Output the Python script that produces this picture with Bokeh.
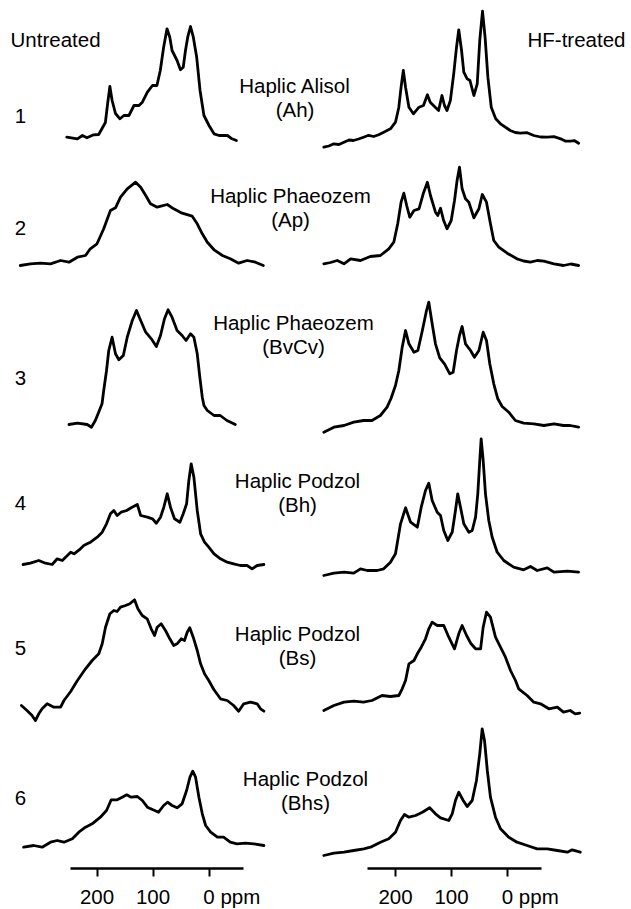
from bokeh.plotting import figure
from bokeh.models import Range1d, LinearAxis, FixedTicker
from bokeh.core.properties import value
from bokeh.embed import file_html
from bokeh.resources import INLINE

# ---------------- data: 13C CPMAS NMR spectra (ppm, intensity a.u.) ----------------
soil_names = ["Haplic Alisol", "Haplic Phaeozem", "Haplic Phaeozem",
              "Haplic Podzol", "Haplic Podzol", "Haplic Podzol"]
horizons = ["(Ah)", "(Ap)", "(BvCv)", "(Bh)", "(Bs)", "(Bhs)"]
row_numbers = ["1", "2", "3", "4", "5", "6"]
column_titles = ["Untreated", "HF-treated"]
tick_ppm = [200, 100, 0]
tick_labels = ["200", "100", "0 ppm"]

ppm_u1 = [254, 235, 226, 218, 206, 197, 191, 185, 181, 177, 173, 167, 159, 152, 143, 134, 125, 119, 110, 101, 93, 87, 81, 75, 70, 66, 57, 51, 46, 42, 38, 33, 28, 22, 16, 9, 0, -9, -18, -33, -41, -49]
int_u1 = [3.3, 1.7, 5, 2.7, 5.7, 6, 12, 18, 37, 54, 40, 27, 21.7, 25, 25, 35, 35, 38.3, 48.3, 55, 55, 70, 93.3, 111.7, 103.3, 90, 80, 70.7, 73.3, 90, 103.3, 114, 103.3, 83.3, 50, 25, 15, 6.7, 5, 5, 1.7, 0]

ppm_h1 = [328, 319, 310, 301, 292, 283, 275, 266, 257, 248, 239, 230, 221, 209, 200, 194, 190, 186, 182, 176, 168, 158, 150, 143, 138, 129, 123, 117, 112.5, 108, 102, 96, 91, 87, 82, 78, 72, 67, 60, 54, 49.5, 44.6, 40, 35, 29, 21, 12.5, -5, -14, -23, -35, -47, -59, -71, -83, -95, -103, -112, -120, -127]
int_h1 = [0.3, 1.5, 3.7, 3, 5.3, 7.5, 7, 8.5, 10.3, 12.2, 11, 12.8, 15.3, 18.7, 25.3, 40.3, 60.3, 77, 60.3, 40.3, 33.7, 40.3, 42, 52.7, 45.3, 40.3, 37, 52, 42, 37, 47, 73.7, 100.3, 117.7, 97, 75.3, 68.7, 67, 52, 63.7, 107, 136.3, 110.3, 70.3, 40.3, 28.7, 23.7, 17, 15, 14.3, 14.8, 12, 10.5, 10.3, 10.8, 8.7, 6.5, 6.3, 6.8, 4.3]

ppm_u2 = [337, 319, 301, 283, 265, 250, 235, 220.5, 212, 200, 188, 176, 167, 158, 146, 131, 122, 113, 104.5, 92.5, 74.6, 63, 48, 30, 21, 12, 3, -9, -24, -38, -53, -68, -83, -97]
int_u2 = [1, 2.7, 3.3, 2.7, 6, 4.3, 9.3, 11, 17.7, 22.7, 37.7, 56, 58.7, 69.3, 77.7, 84.3, 79.3, 71, 62.7, 59.3, 62, 57.7, 53.3, 50.3, 42.7, 32.7, 24.3, 16.7, 11, 7.7, 3.3, 6, 4.3, 1]

ppm_h2 = [328, 316, 304, 292, 280, 262.5, 245, 227, 212, 203, 196, 190, 185, 180, 174.5, 167, 158, 150.5, 143, 137.5, 128.6, 124.5, 119.6, 114, 108, 100.5, 94.6, 90, 85.7, 81, 75, 69, 60, 51, 45, 37.5, 30.4, 24.5, 15.5, 0.5, -17, -29, -41, -53, -65, -83, -100, -113, -127]
int_h2 = [2.7, 4, 6, 2.7, 7.7, 6, 10, 11, 17.7, 24.3, 42.7, 64.3, 73.3, 61, 49.3, 56, 57.7, 72.7, 84.3, 71, 54.3, 51, 58.3, 46, 37.7, 46, 66, 86, 99.3, 77.7, 67.7, 64.3, 48.7, 57.7, 72, 64.3, 42.7, 26, 19.3, 13.3, 7.7, 5.5, 4.3, 6, 5.3, 2.7, 1, 2.5, 1]

ppm_u3 = [250, 235, 217.5, 210, 203, 197, 191, 188, 183, 179, 173, 167, 161, 153, 146, 137, 129.5, 122, 113, 103, 94, 86.6, 79.5, 73, 66, 57, 48, 41, 33, 27, 21, 16.4, 12, 9, 3, -9, -20, -32, -47]
int_u3 = [3, 4.3, 3, 0.3, 7, 15.3, 23.7, 37, 57, 77, 90.3, 73.7, 67.7, 72, 90.3, 107, 117, 107, 95.3, 88.7, 81, 92, 108.7, 117.7, 110.3, 97, 92, 87, 93.7, 90.3, 73.7, 50.3, 30.3, 22, 17, 12, 12, 7, 3]

ppm_h3 = [328, 310, 292, 274.5, 257, 242, 227, 215, 208, 200, 194, 188, 182, 176, 167, 160, 152, 144.6, 140.5, 134.5, 128.6, 121, 112.5, 103, 97, 91, 85.7, 81, 75, 66, 59, 51, 43.4, 37.5, 31.6, 24.5, 17.3, 9.5, -2.3, -14, -29, -47, -65, -83, -100, -112, -127]
int_h3 = [0.3, 5.3, 7, 10.3, 12, 12, 17, 25.3, 34, 47, 62, 85.3, 102, 88.7, 80.3, 82, 102, 122, 130.3, 108.7, 88.7, 74.7, 68.7, 58.7, 60.3, 82, 97, 106, 88.7, 82, 75.3, 82, 100.3, 92, 68.7, 48.7, 33.7, 26, 20.3, 12, 9.3, 8.7, 7, 8.7, 7, 7, 5.3]

ppm_u4 = [332, 319, 304, 292, 280, 271, 262, 247, 241, 229.5, 223.6, 217.5, 211.6, 199.6, 190.7, 183, 176, 170, 164, 157, 147, 139, 128, 122, 110, 101, 94, 86.6, 80.7, 74.6, 68.8, 61.6, 52, 46, 40, 36, 31.8, 27, 21, 15, 8, 0.4, -9, -20.5, -32.5, -44, -56, -68, -77, -86, -98]
int_u4 = [4, 5.3, 8, 5.3, 4, 9.7, 8, 16.3, 14.7, 19.7, 23, 24.7, 26.3, 31.3, 36.3, 44.7, 54.7, 58, 53, 56.3, 58, 60.7, 64, 53, 51.3, 49.7, 45.3, 51.3, 61.3, 74.7, 61.3, 49.7, 46.3, 54.7, 64.7, 88, 104.7, 91.3, 58, 34.7, 26.3, 21.3, 14.7, 9.7, 6.3, 4.7, 3, 3, -0.3, 3, 4]

ppm_h4 = [328, 310, 292, 274.5, 262.5, 250.5, 232.7, 221, 209, 200, 197, 191, 182, 173, 161, 154, 146.4, 140.5, 134.5, 125.5, 119.6, 113.8, 106.6, 98.7, 92.9, 88.8, 83.9, 78, 69, 63, 57, 53, 49.5, 47, 43.4, 39.3, 33.4, 27.3, 18.4, 6.6, -11, -29, -41, -53, -71, -83, -107, -127]
int_h4 = [0, 2.3, 3.3, 2.3, 6.7, 5, 5, 6.7, 13.3, 21.7, 31.7, 51.7, 67.7, 53.3, 48.3, 68.3, 85, 92.3, 75, 63.3, 60, 45, 35, 43.3, 65, 81.7, 68.3, 51.7, 43.3, 45, 58.3, 81.7, 115, 136.7, 115, 81.7, 55, 38.3, 23.3, 15, 8.3, 5.7, 9, 5, 7.7, 3.3, 4.3, 3.3]

ppm_u5 = [335, 325, 316, 310, 304, 298, 289, 277, 265, 259, 247, 235, 220.5, 208.6, 196.8, 190.7, 184.8, 177, 170, 164, 158, 149, 141.4, 133, 127, 119.3, 110.4, 103.2, 97.3, 92.5, 85.4, 77.7, 70, 63, 57, 49.6, 43.8, 38.9, 34.3, 28.2, 21, 15, 8, 0.4, -8.6, -20.5, -32.5, -44, -53, -62, -74, -86, -92, -98]
int_u5 = [15, 10, 5, 0, 6.7, 11.7, 16.7, 13.3, 13.3, 20, 29, 40, 51.7, 60, 66.7, 76.7, 93.3, 106.7, 110, 109, 113.3, 115, 116.7, 120.7, 111.7, 105, 101.7, 91.7, 85, 93.3, 96.7, 90, 81.7, 75, 76.7, 81.7, 80, 88.3, 92.7, 83.3, 70, 56.7, 46.7, 40, 31, 21.7, 20, 15, 9.3, 16.7, 18.3, 16.7, 11.7, 9.3]

ppm_h5 = [328, 310, 292, 274.5, 257, 242, 224, 209, 194, 188, 182, 176, 167, 161, 154, 146.4, 140.5, 134.5, 125.5, 113.8, 104.8, 94.6, 87, 81, 73, 65, 57, 48, 43.4, 37.5, 30.4, 21.4, 12.5, 3.6, -5.4, -14.3, -20, -35, -47, -59, -74, -89, -100, -112, -121, -129]
int_h5 = [3, 8, 11.3, 12.3, 11.3, 13, 18, 17, 18, 24.7, 33, 49.7, 53, 59.7, 66.3, 74.7, 84.7, 91.3, 88, 88, 76.3, 64.7, 79.7, 88, 78, 69.7, 64.7, 64.7, 86.3, 101.3, 96.3, 76.3, 66.3, 56.3, 43, 33, 24.7, 18, 11.3, 9.7, 4.7, 6.3, 1.3, 3, -0.3, 0.3]

ppm_u6 = [331, 313, 298, 283, 271, 259, 244, 232.5, 220.5, 208.6, 194, 183, 174.6, 164, 155, 147, 139, 128, 119, 110, 100, 90, 81, 74, 66, 57, 48, 40, 34, 29, 24, 18, 12, 6, -3, -15, -26, -38, -50, -65, -80, -98]
int_u6 = [0.3, 2, 0.3, 5.3, 7, 5.3, 8.7, 15.3, 20.3, 23.7, 30.3, 37, 47.7, 47.7, 50.3, 52.7, 50.3, 51, 47, 40.3, 37.7, 35.3, 42, 45.3, 42, 39.7, 43.7, 57, 70.3, 76.3, 70.3, 50.3, 33.7, 22, 15.3, 10.3, 10.3, 5.3, 3.7, 4.3, 3.7, 2]

ppm_h6 = [328, 310, 292, 274.5, 256.6, 244.6, 226.8, 212, 200, 191, 184, 176, 164, 152, 139, 128.6, 119.6, 104.8, 98.7, 92.9, 87, 79, 72, 63, 55.4, 49.5, 45.2, 41, 36, 30.4, 21.4, 12.5, -2.3, -17, -35, -53, -71, -89, -107, -115.5, -130]
int_h6 = [0, 2.3, 3.3, 5, 6.7, 8.3, 13.3, 16.7, 23.3, 35, 41, 38.3, 40, 43.3, 47.7, 41.7, 37.7, 35, 41.7, 55, 63.3, 55, 49, 55, 75, 101.7, 126.7, 115, 85, 58.3, 38.3, 26.7, 18.3, 13.3, 10, 6.7, 6.7, 5, 3.3, 5.7, 3.3]

untreated = [(ppm_u1, int_u1), (ppm_u2, int_u2), (ppm_u3, int_u3),
             (ppm_u4, int_u4), (ppm_u5, int_u5), (ppm_u6, int_u6)]
hf_treated = [(ppm_h1, int_h1), (ppm_h2, int_h2), (ppm_h3, int_h3),
              (ppm_h4, int_h4), (ppm_h5, int_h5), (ppm_h6, int_h6)]

# ---------------- layout (pixels of the page; canvas sits at page 0,0) ----------------
FRAME_W, FRAME_H = 631, 870
PX_PER_PPM = 0.56
PPM0_PX = 208.5          # page x of 0 ppm in the left column
RIGHT_SHIFT = 533.0      # ppm offset of the right column
FRAME_BOTTOM_PY = 870


def X(px):
    return (PPM0_PX - px) / PX_PER_PPM


def Y(py):
    return FRAME_BOTTOM_PY - py


untreated_base_py = [140, 266, 427, 568, 720, 847]
hf_base_py = [147, 266, 432, 575, 713, 855]
label_center_px = [294.5, 290, 293, 297, 297, 305]
label_line1_py = [84.5, 194.5, 321.5, 479.5, 632.5, 777.5]
row_num_py = [115, 227, 377, 502, 647, 797]

FONT = value("Liberation Sans")
FS = value("20.5px")
LW = 2.8

p = figure(frame_width=FRAME_W, frame_height=FRAME_H,
           x_range=Range1d(X(0), X(FRAME_W)), y_range=Range1d(0, FRAME_H),
           x_axis_type=None, y_axis_type=None, output_backend="svg",
           toolbar_location=None, tools="", min_border=0)
p.outline_line_color = None
p.background_fill_color = "white"
p.border_fill_color = "white"

for i in range(6):
    ppm, inten = untreated[i]
    off = Y(untreated_base_py[i])
    p.line(ppm, [off + v for v in inten], line_color="black", line_width=LW,
           line_join="round", line_cap="round")
    ppm, inten = hf_treated[i]
    off = Y(hf_base_py[i])
    p.line([v - RIGHT_SHIFT for v in ppm], [off + v for v in inten],
           line_color="black", line_width=LW, line_join="round", line_cap="round")

# axis lines
axis_y = Y(868)
p.segment(x0=[X(70), X(367)], y0=[axis_y, axis_y], x1=[X(243), X(541)],
          y1=[axis_y, axis_y], line_color="black", line_width=2.6)

# texts
p.text(x=[X(10)], y=[Y(39)], text=[column_titles[0]], text_font=FONT,
       text_font_size=FS, text_align="left", text_baseline="alphabetic",
       text_color="black")
p.text(x=[X(625)], y=[Y(39)], text=[column_titles[1]], text_font=FONT,
       text_font_size=FS, text_align="right", text_baseline="alphabetic",
       text_color="black")
p.text(x=[X(20)] * 6, y=[Y(v) for v in row_num_py], text=row_numbers,
       text_font=FONT, text_font_size=FS, text_align="center",
       text_baseline="alphabetic", text_color="black")
p.text(x=[X(v) for v in label_center_px], y=[Y(v) for v in label_line1_py],
       text=soil_names, text_font=FONT, text_font_size=FS, text_align="center",
       text_baseline="alphabetic", text_color="black")
p.text(x=[X(v) for v in label_center_px], y=[Y(v + 24) for v in label_line1_py],
       text=horizons, text_font=FONT, text_font_size=FS, text_align="center",
       text_baseline="alphabetic", text_color="black")

# bottom axis with both ppm scales
ticks = tick_ppm + [t - RIGHT_SHIFT for t in tick_ppm]
overrides = {}
for t, lab in zip(tick_ppm, tick_labels):
    if lab.startswith("0 "):
        lab = "\u00a0" * 8 + lab
    overrides[t] = lab
    overrides[t - RIGHT_SHIFT] = lab
ax = LinearAxis(ticker=FixedTicker(ticks=ticks), major_label_overrides=overrides)
ax.axis_line_color = None
ax.major_tick_line_color = "black"
ax.major_tick_line_width = 2
ax.major_tick_in = 2
ax.major_tick_out = 6
ax.minor_tick_line_color = None
ax.major_label_text_font = "Liberation Sans"
ax.major_label_text_font_size = "20.5px"
ax.major_label_text_color = "black"
ax.major_label_standoff = 8
p.add_layout(ax, "below")

open("out.html", "w").write(file_html(p, INLINE))
